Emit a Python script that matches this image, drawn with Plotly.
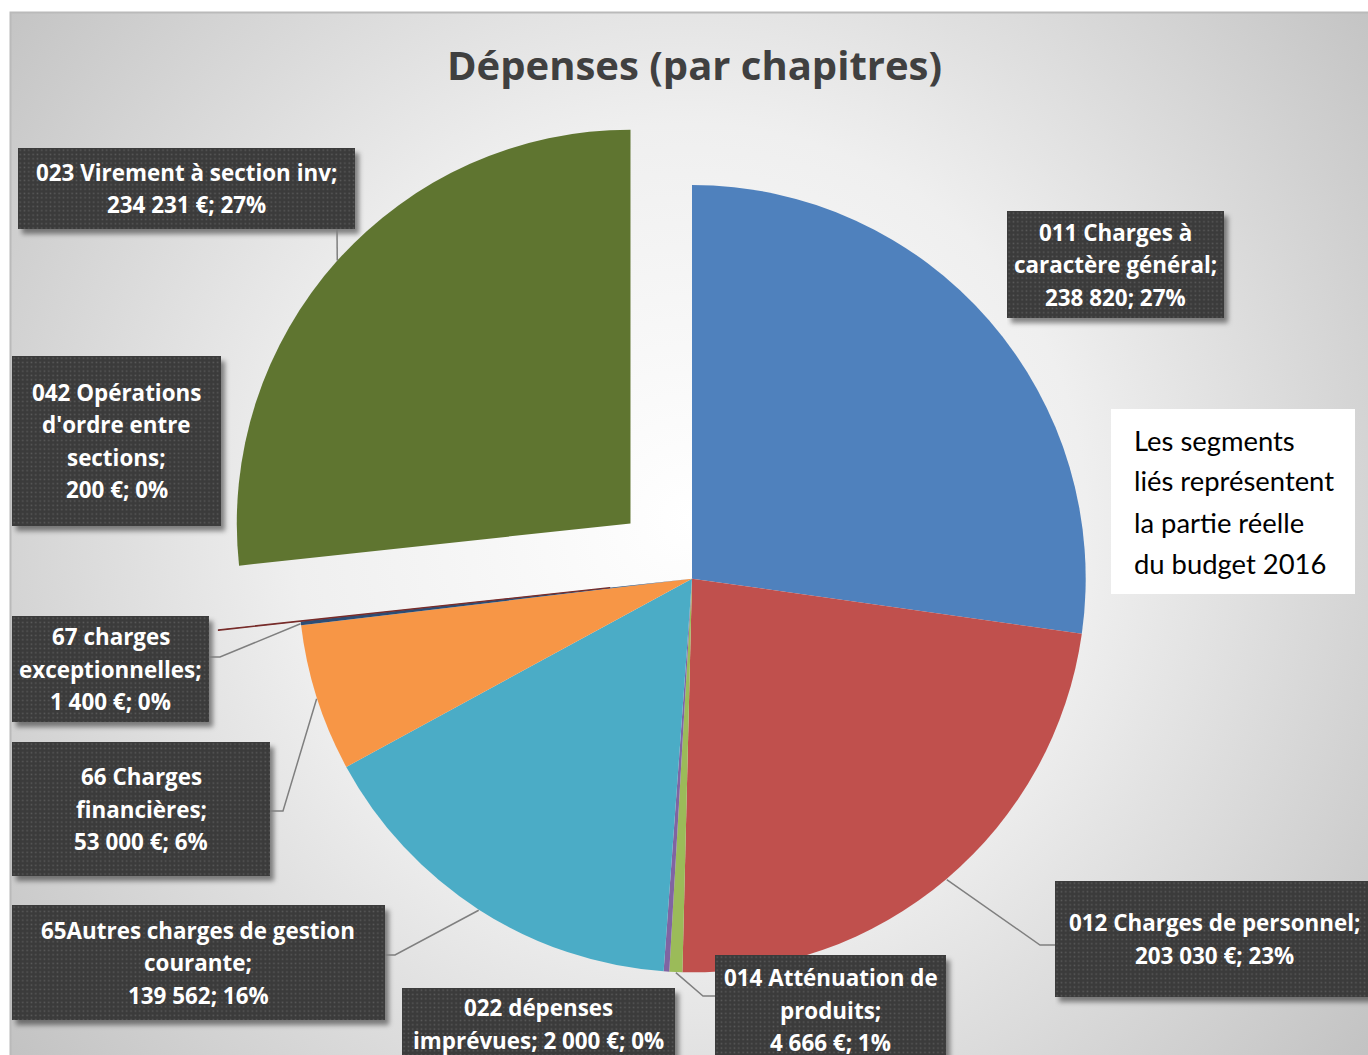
import base64
import math
import plotly.graph_objects as go

W, H = 1368, 1055

# chapters, in the order the pie runs clockwise from 12 o'clock
categories = [
    "011 Charges à caractère général",
    "012 Charges de personnel",
    "014 Atténuation de produits",
    "022 dépenses imprévues",
    "65Autres charges de gestion courante",
    "66 Charges financières",
    "67 charges exceptionnelles",
    "042 Opérations d'ordre entre sections",
    "023 Virement à section inv",
]
values = [238820, 203030, 4666, 2000, 139562, 53000, 1400, 200, 234231]
show_euro = [False, True, True, True, False, True, True, True, True]
exploded = [False, False, False, False, False, False, False, True, True]
colors = ["#4F81BD", "#C0504D", "#9BBB59", "#8064A2", "#4BACC6",
          "#F79646", "#2C4D75", "#772C2A", "#5F7530"]

# how each category name wraps inside its label box
name_lines = [
    ["011 Charges à", "caractère général"],
    ["012 Charges de personnel"],
    ["014 Atténuation de", "produits"],
    ["022 dépenses", "imprévues"],
    ["65Autres charges de gestion", "courante"],
    ["66 Charges", "financières"],
    ["67 charges", "exceptionnelles"],
    ["042 Opérations", "d'ordre entre", "sections"],
    ["023 Virement à section inv"],
]
value_inline = [False, False, False, True, False, False, False, False, False]

note_lines = ["Les segments", "liés représentent", "la partie réelle", "du budget 2016"]
title = "Dépenses (par chapitres)"

# ---- layout (pixels) ----
CX, CY, R = 692, 579, 394
PULL = 0.21
BOXES = [  # x0, y0, x1, y1
    (1007, 211, 1224, 318),
    (1055, 881, 1373, 997),
    (715, 955, 946, 1065),
    (402, 988, 675, 1060),
    (12, 905, 385, 1020),
    (12, 742, 270, 876),
    (12, 616, 209, 722),
    (12, 356, 221, 526),
    (18, 148, 355, 229),
]
LEADERS = [  # points from the slice anchor to the box
    None,
    [(1040, 945), (1055, 945)],
    [(703, 996), (715, 996)],
    None,
    [(395, 955), (385, 955)],
    [(283, 811), (270, 811)],
    [(220, 657), (209, 657)],
    None,
    [(337, 229)],
]
LINE_STEP = 32.5
LABEL_FONT = "Open Sans"
NOTE_FONT = "Lato"


def px(x):
    return x / W


def py(y):
    return 1 - y / H


def svg_uri(svg):
    return "data:image/svg+xml;base64," + base64.b64encode(svg.encode("utf-8")).decode()


def fmt_num(v):
    return f"{v:,}".replace(",", " ")


total = sum(values)
pulls = [PULL if e else 0 for e in exploded]
half = R * (1 + PULL)

fig = go.Figure(go.Pie(
    labels=categories, values=values, sort=False, direction="clockwise", rotation=0,
    marker=dict(colors=colors,
                line=dict(color=colors, width=[0, 0, 0, 0, 0, 0, 0, 1.2, 0])),
    pull=pulls, textinfo="none", showlegend=False,
    hovertemplate="<b>%{label}</b><br>%{value:,} €<br>%{percent}<extra></extra>",
    domain=dict(x=[(CX - 480) / W, (CX + 480) / W],
                y=[max(0, (H - CY - half) / H), (H - CY + half) / H]),
))

images = []
bg_svg = f'''<svg xmlns="http://www.w3.org/2000/svg" width="{W}" height="{H}">
<defs><radialGradient id="g" gradientUnits="userSpaceOnUse" cx="690" cy="520" r="880">
<stop offset="0" stop-color="#ffffff"/><stop offset="0.45" stop-color="#efefef"/>
<stop offset="1" stop-color="#c1c1c1"/></radialGradient></defs>
<rect x="10.5" y="12.5" width="{W + 20}" height="{H + 20}" fill="url(#g)" stroke="#bababa" stroke-width="2"/>
</svg>'''
images.append(dict(source=svg_uri(bg_svg), xref="paper", yref="paper", x=0, y=1,
                   sizex=1, sizey=1, sizing="stretch", layer="below",
                   xanchor="left", yanchor="top"))


def box_svg(w, h, pad=14):
    return f'''<svg xmlns="http://www.w3.org/2000/svg" width="{w + pad}" height="{h + pad}">
<defs>
<filter id="s" x="-10%" y="-10%" width="130%" height="130%"><feGaussianBlur stdDeviation="2.5"/></filter>
<pattern id="p" width="4.33" height="4.33" patternUnits="userSpaceOnUse">
<rect x="1.4" y="1.4" width="1.5" height="1.5" fill="#5a5a5a"/></pattern>
</defs>
<rect x="4" y="5" width="{w}" height="{h}" fill="#000" fill-opacity="0.45" filter="url(#s)"/>
<rect x="0" y="0" width="{w}" height="{h}" fill="#3b3b3b"/>
<rect x="0" y="0" width="{w}" height="{h}" fill="url(#p)"/>
</svg>'''


annotations = []
shapes = []

# slice geometry from the data
cum = 0
for i, v in enumerate(values):
    frac = v / total
    mid = 2 * math.pi * (cum + frac / 2)
    cum += frac
    rr = R + (R * PULL if exploded[i] else 0)
    ax, ay = CX + rr * math.sin(mid), CY - rr * math.cos(mid)

    x0, y0, x1, y1 = BOXES[i]
    bw, bh = x1 - x0, y1 - y0
    images.append(dict(source=svg_uri(box_svg(bw, bh)), xref="paper", yref="paper",
                       x=px(x0), y=py(y0), sizex=(bw + 14) / W, sizey=(bh + 14) / H,
                       sizing="stretch", layer="above", xanchor="left", yanchor="top"))

    pct = int(100 * v / total + 0.5)
    vtxt = fmt_num(v) + (" €" if show_euro[i] else "") + f"; {pct}%"
    lines = list(name_lines[i])
    lines[-1] += ";"
    if value_inline[i]:
        lines[-1] += " " + vtxt
    else:
        lines.append(vtxt)
    mx, my = (x0 + x1) / 2, (y0 + y1) / 2
    n = len(lines)
    for k, t in enumerate(lines):
        annotations.append(dict(
            text=t, x=px(mx), y=py(my + (k - (n - 1) / 2) * LINE_STEP),
            xref="paper", yref="paper", showarrow=False, xanchor="center", yanchor="middle",
            font=dict(family=LABEL_FONT, size=22.4, color="white", weight="bold"),
        ))

    if LEADERS[i]:
        pts = [(ax, ay)] + LEADERS[i]
        path = "M " + " L ".join(f"{px(a)},{py(b)}" for a, b in pts)
        shapes.append(dict(type="path", path=path, xref="paper", yref="paper",
                           line=dict(color="#7f7f7f", width=1.5), layer="above"))

# note box
shapes.append(dict(type="rect", xref="paper", yref="paper",
                   x0=px(1111), x1=px(1355), y0=py(409), y1=py(594),
                   fillcolor="white", line=dict(width=0), layer="above"))
for k, t in enumerate(note_lines):
    annotations.append(dict(
        text=t, x=px(1132), y=py(440 + k * 41), xref="paper", yref="paper",
        showarrow=False, xanchor="left", yanchor="middle",
        font=dict(family=NOTE_FONT, size=27.4, color="black"),
    ))

annotations.append(dict(
    text=title, x=px(694), y=py(65), xref="paper", yref="paper",
    showarrow=False, xanchor="center", yanchor="middle",
    font=dict(family=LABEL_FONT, size=40, color="#404040", weight="bold"),
))

fig.update_layout(
    width=W, height=H, margin=dict(l=0, r=0, t=0, b=0, pad=0),
    paper_bgcolor="white", plot_bgcolor="rgba(0,0,0,0)",
    images=images, shapes=shapes, annotations=annotations,
    hoverlabel=dict(font=dict(family=LABEL_FONT)),
)

fig.write_html("out.html", config=dict(displayModeBar=False),
               post_script="document.body.style.margin='0';document.body.style.overflow='hidden';")
